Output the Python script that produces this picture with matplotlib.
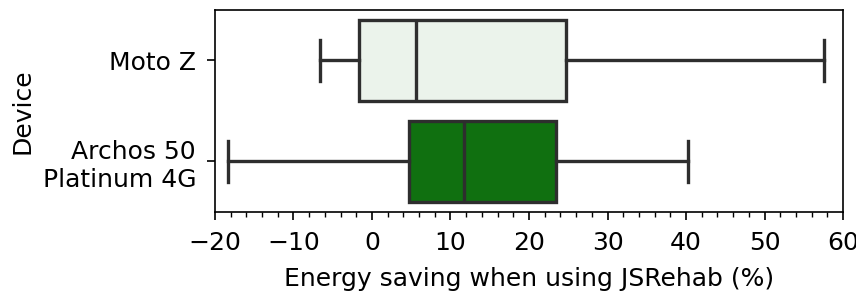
import matplotlib
matplotlib.use("Agg")
import matplotlib.pyplot as plt
from matplotlib.ticker import MultipleLocator

devices = ["Moto Z", "Archos 50\nPlatinum 4G"]
whisker_low = [-6.6, -18.3]
q1 = [-1.6, 4.75]
median = [5.6, 11.7]
q3 = [24.7, 23.4]
whisker_high = [57.6, 40.3]
colors = ["#ebf3eb", "#107010"]

plt.rcParams['font.family'] = ['DejaVu Sans']
plt.rcParams['font.size'] = 18

fig = plt.figure(figsize=(8.56, 2.93), dpi=100)
ax = fig.add_axes([0.251, 0.2765, 0.734, 0.6895])

stats = []
for i, d in enumerate(devices):
    stats.append(dict(label=d, whislo=whisker_low[i], q1=q1[i], med=median[i],
                      q3=q3[i], whishi=whisker_high[i], fliers=[]))

lc = "#2e2e2e"
lw = 2.4
bp = ax.bxp(stats, positions=list(range(len(devices))), vert=False, widths=0.8,
            patch_artist=True, showfliers=False,
            boxprops=dict(edgecolor=lc, linewidth=lw),
            medianprops=dict(color=lc, linewidth=lw),
            whiskerprops=dict(color=lc, linewidth=lw),
            capprops=dict(color=lc, linewidth=lw))
for patch, c in zip(bp['boxes'], colors):
    patch.set_facecolor(c)

ax.set_ylim(1.5, -0.5)
ax.set_xlim(-20, 60)
ax.set_yticks(range(len(devices)))
ax.set_yticklabels(devices)
ax.xaxis.set_major_locator(MultipleLocator(10))
ax.xaxis.set_minor_locator(MultipleLocator(2))
ax.tick_params(which='major', length=6, width=1.2, pad=7.5)
ax.tick_params(which='minor', length=3.6, width=1.0)
ax.set_xlabel("Energy saving when using JSRehab (%)", labelpad=9)
ax.set_ylabel("Device", labelpad=6)
for s in ax.spines.values():
    s.set_linewidth(1.2)

fig.savefig("out.png", dpi=100)
